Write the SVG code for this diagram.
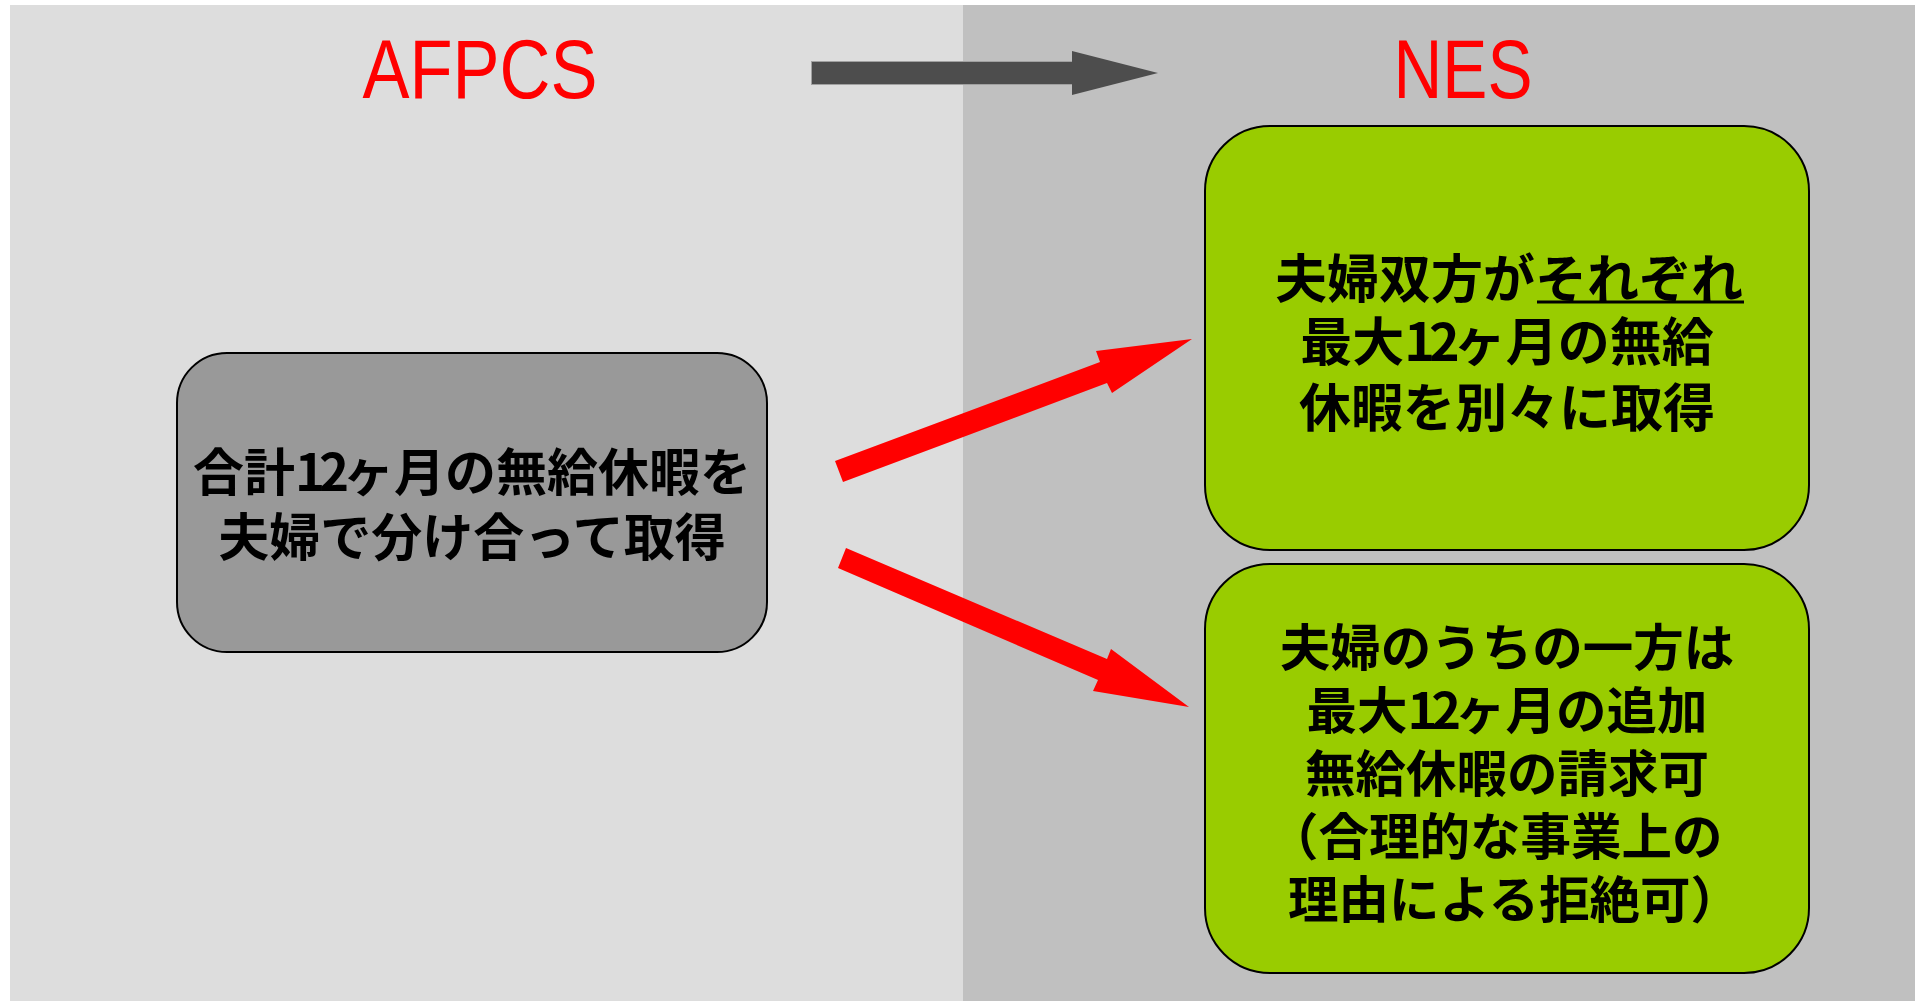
<svg xmlns="http://www.w3.org/2000/svg" width="1915" height="1001" viewBox="0 0 1915 1001">
<style>
.title{font-family:"Liberation Sans Narrow","Liberation Sans",Arial,sans-serif;font-size:84px;fill:#FF0000;text-anchor:middle}
.jp{font-family:"Noto Sans CJK JP","Noto Sans CJK SC",sans-serif;font-weight:bold;fill:#000000;text-anchor:middle}
.st{text-anchor:start}
.num{letter-spacing:-6px}
.box{stroke:#000000;stroke-width:2}
.red{fill:#FF0000}
</style>
<rect x="0" y="0" width="1915" height="1001" fill="#FFFFFF"/>
<rect x="10" y="5" width="953" height="996" fill="#DDDDDD"/>
<rect x="963" y="5" width="952" height="996" fill="#C0C0C0"/>
<g id="header">
<text class="title" x="480" y="98" textLength="235" lengthAdjust="spacingAndGlyphs">AFPCS</text>
<text class="title" x="1463" y="98" textLength="139" lengthAdjust="spacingAndGlyphs">NES</text>
</g>
<g id="connectors">
<rect x="811.5" y="61.5" width="262" height="23" fill="#4D4D4D" stroke="#A0A0A0" stroke-width="1"/>
<polygon points="1072,51 1158,73 1072,95" fill="#4D4D4D"/>
<polygon class="red" points="835,461 1100,362 1096,351 1192,339 1112,393 1107,383 843,482"/>
<polygon class="red" points="846,548 1107,659 1111,649 1189,707 1093,691 1098,680 838,568"/>
</g>
<g id="afpcs-node">
<rect class="box" x="177" y="353" width="590" height="299" rx="50" ry="50" fill="#999999"/>
<text class="jp" font-size="51" x="472" y="491">合計<tspan class="num">12</tspan>ヶ月の無給休暇を</text>
<text class="jp" font-size="51" x="472" y="556">夫婦で分け合って取得</text>
</g>
<g id="nes-node-1">
<rect class="box" x="1205" y="126" width="604" height="424" rx="65" ry="65" fill="#99CC00"/>
<text class="jp" font-size="52" x="1509" y="298">夫婦双方がそれぞれ</text>
<line x1="1537" y1="302" x2="1744" y2="302" stroke="#000000" stroke-width="3"/>
<text class="jp" font-size="52" x="1507" y="361">最大<tspan class="num">12</tspan>ヶ月の無給</text>
<text class="jp" font-size="52" x="1507" y="427">休暇を別々に取得</text>
</g>
<g id="nes-node-2">
<rect class="box" x="1205" y="564" width="604" height="409" rx="65" ry="65" fill="#99CC00"/>
<text class="jp" font-size="50.5" x="1507" y="666">夫婦のうちの一方は</text>
<text class="jp" font-size="50.5" x="1507" y="729">最大<tspan class="num">12</tspan>ヶ月の追加</text>
<text class="jp" font-size="50.5" x="1507" y="792">無給休暇の請求可</text>
<text class="jp st" font-size="50.5" x="1268" y="855">（合理的な事業上の</text>
<text class="jp st" font-size="50.5" x="1288" y="918">理由による拒絶可）</text>
</g>
</svg>
